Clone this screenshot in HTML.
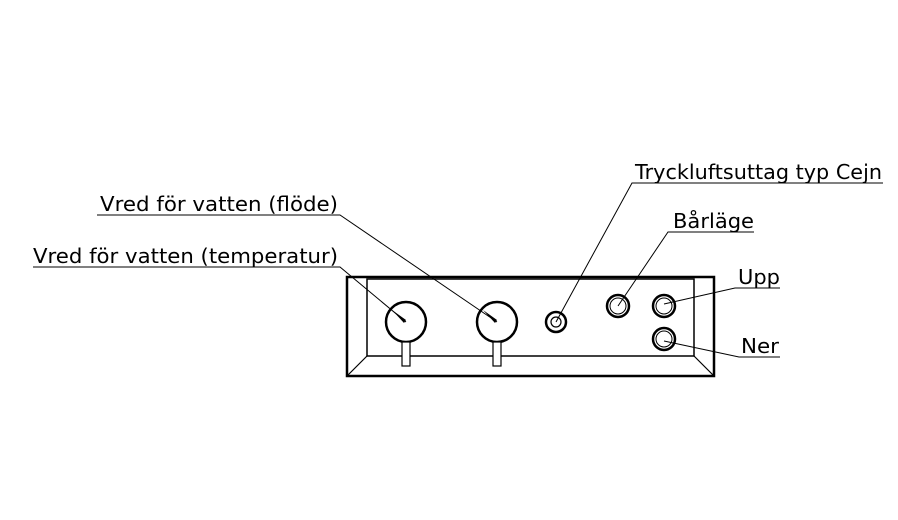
<!DOCTYPE html>
<html><head><style>body{margin:0;background:#fff}svg{display:block}text{font-family:"DejaVu Sans","Liberation Sans",sans-serif;font-size:20px;fill:#000}</style></head><body>
<svg width="898" height="520" viewBox="0 0 898 520" xmlns="http://www.w3.org/2000/svg">
<g fill="none" stroke="#000">
<rect x="347" y="277" width="367" height="99" stroke-width="2.5"/>
<rect x="367" y="279" width="327" height="77" stroke-width="1.5"/>
<line x1="347" y1="376" x2="367" y2="356" stroke-width="1.2"/>
<line x1="714" y1="376" x2="694" y2="356" stroke-width="1.2"/>
<circle cx="406" cy="322" r="20" stroke-width="2.5"/>
<circle cx="497" cy="322" r="20" stroke-width="2.5"/>
<rect x="402" y="342" width="8" height="24" fill="#fff" stroke-width="1.2"/>
<rect x="493" y="342" width="8" height="24" fill="#fff" stroke-width="1.2"/>
<circle cx="556" cy="322" r="10" stroke-width="2.5"/>
<circle cx="556" cy="322" r="5" stroke-width="1.2"/>
<circle cx="618" cy="306" r="11" stroke-width="2.5"/>
<circle cx="618" cy="306" r="8" stroke-width="1"/>
<circle cx="664" cy="306" r="11" stroke-width="2.5"/>
<circle cx="664" cy="306" r="8" stroke-width="1"/>
<circle cx="664" cy="339" r="11" stroke-width="2.5"/>
<circle cx="664" cy="339" r="8" stroke-width="1"/>
<g stroke-width="1">
<polyline points="33,267 340,267 406,322"/>
<polyline points="97,215 340,215 497,322"/>
<polyline points="883,183 632,183 556,322"/>
<polyline points="754,232 668,232 618,306"/>
<polyline points="780,288 735,288 664,304"/>
<polyline points="780,357 739,357 664,341"/>
</g>
</g>
<polygon points="392,310 406,320 404,323" fill="#000"/>
<polygon points="483,310 497,320 495,323" fill="#000"/>
<g style="font-weight:normal">
<text x="33" y="263" textLength="305" lengthAdjust="spacingAndGlyphs">Vred för vatten (temperatur)</text>
<text x="100" y="211" textLength="238" lengthAdjust="spacingAndGlyphs">Vred för vatten (flöde)</text>
<text x="635" y="179" textLength="247" lengthAdjust="spacingAndGlyphs">Tryckluftsuttag typ Cejn</text>
<text x="673" y="228" textLength="81" lengthAdjust="spacingAndGlyphs">Bårläge</text>
<text x="738" y="284" textLength="42" lengthAdjust="spacingAndGlyphs">Upp</text>
<text x="741" y="353" textLength="38" lengthAdjust="spacingAndGlyphs">Ner</text>
</g>
</svg>
</body></html>
